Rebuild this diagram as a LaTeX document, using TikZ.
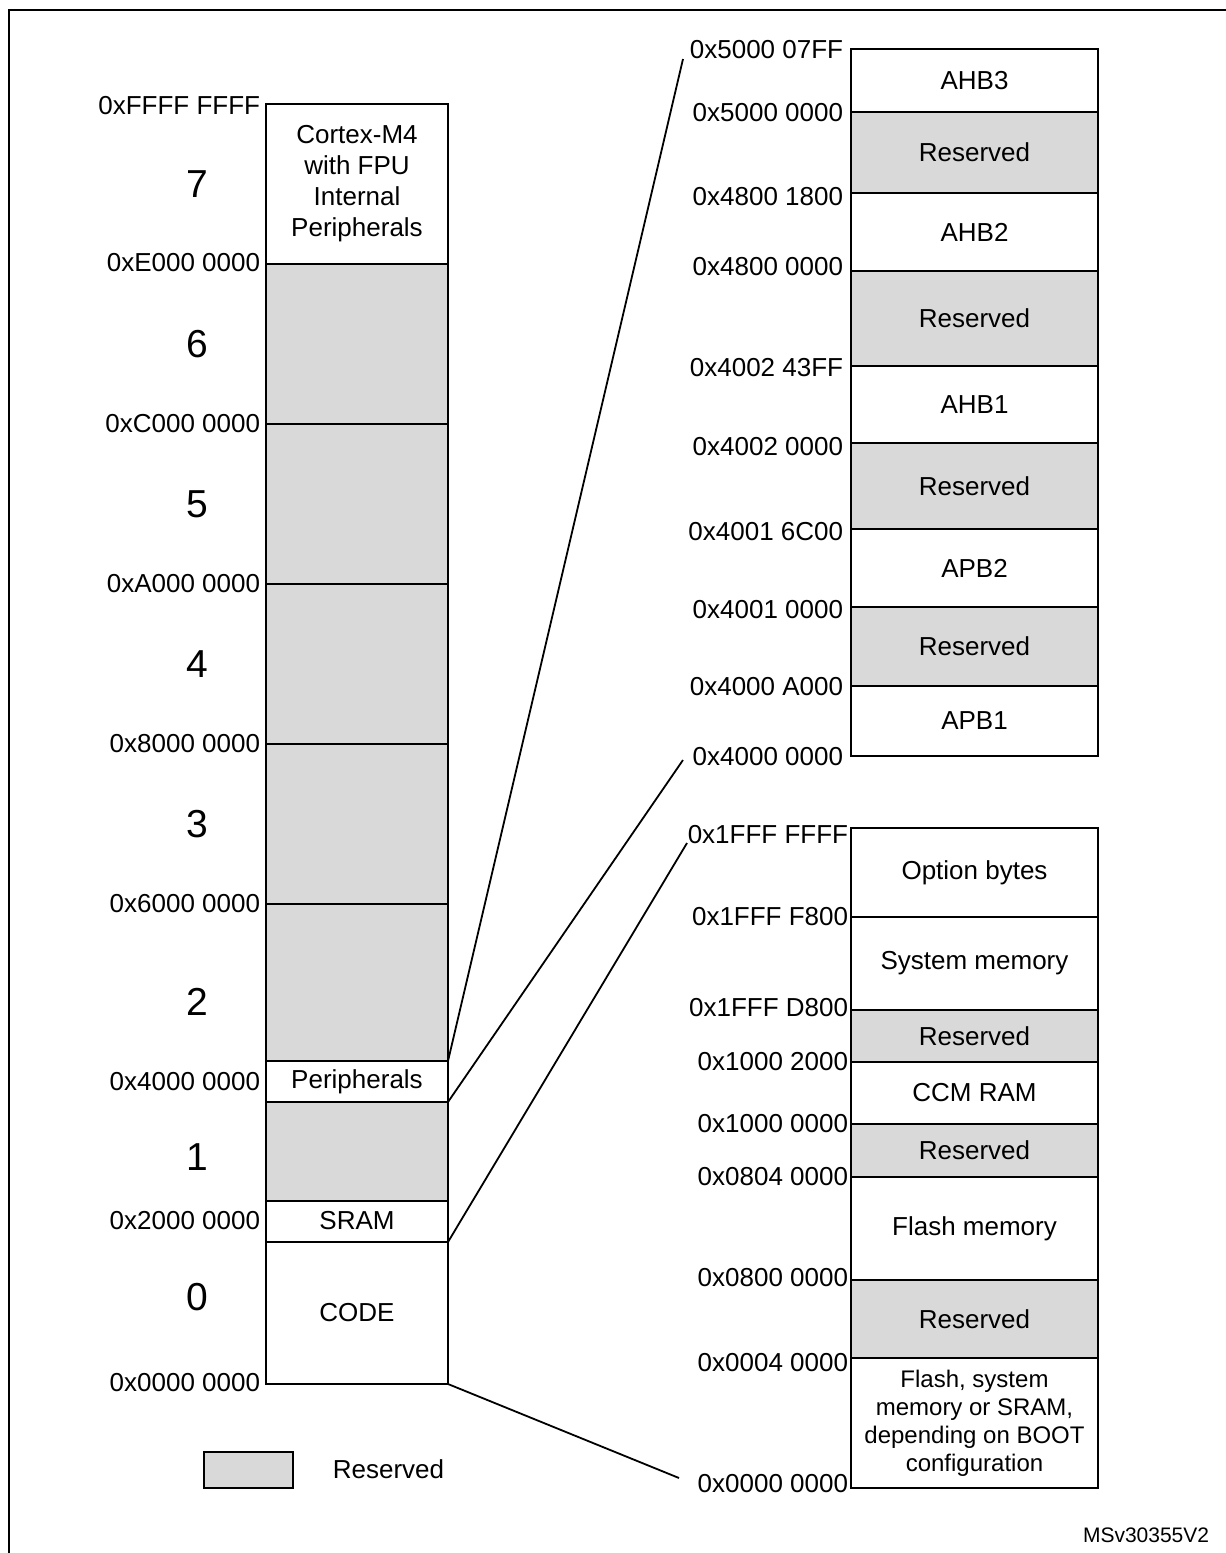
\documentclass[tikz,border=0pt]{standalone}
\usepackage{fontspec}
\setmainfont{Liberation Sans}
\definecolor{resvgray}{HTML}{D9D9D9}

\begin{document}
\begin{tikzpicture}[x=0.5pt,y=-0.5pt,line width=0.9pt,
  every node/.style={font=\fontsize{13pt}{15.5pt}\selectfont, inner sep=0pt},
  addr/.style={anchor=east},
  regnum/.style={font=\fontsize{19.5pt}{23pt}\selectfont},
  seg/.style={draw=black, fill=white},
  resv/.style={draw=black, fill=resvgray}]
  \def\lx{266}; \def\rx{448}; % left column
  \def\ux{851}; \def\vx{1098}; % right columns
  \def\cx{357}; \def\dx{974.5}; % centres of the columns

  \useasboundingbox (0,0) rectangle (1226,1553);
  \clip (0,0) rectangle (1226,1553);
  \draw[line width=1.1pt] (9,10) rectangle (1240,1570); % frame, cut by the page

  % left column: 4 GB in eight blocks
  \foreach \t/\b/\s in {104/264/seg, 264/424/resv, 424/584/resv, 584/744/resv, 744/904/resv,
      904/1061/resv, 1061/1102/seg, 1102/1201/resv, 1201/1242/seg, 1242/1384/seg}
    \draw[\s] (\lx,\t) rectangle (\rx,\b);
  \node[align=center] (cortex) at (\cx,184) {Cortex-M4\\with FPU\\Internal\\Peripherals};
  \node (periph) at (\cx,1082) {Peripherals};
  \node (sram) at (\cx,1221) {SRAM};
  \node (code) at (\cx,1313) {CODE};

  \foreach \y/\txt/\n in {106/0xFFFF FFFF/a7, 263/0xE000 0000/a6, 424/0xC000 0000/a5,
      584/0xA000 0000/a4, 744/0x8000 0000/a3, 904/0x6000 0000/a2, 1082/0x4000 0000/a1,
      1221/0x2000 0000/a0, 1383/0x0000 0000/az}
    \node[addr] (\n) at (261,\y) {\txt};
  \foreach \y/\k in {184/7, 344/6, 504/5, 664/4, 824/3, 1002/2, 1157/1, 1297/0} % block numbers
    \node[regnum] (blk\k) at (197,\y) {\k};

  % peripherals, zoomed
  \foreach \t/\b/\s/\txt/\n in {49/112/seg/AHB3/ahb3, 112/193/resv/Reserved/rp1, 193/271/seg/AHB2/ahb2,
      271/366/resv/Reserved/rp2, 366/443/seg/AHB1/ahb1, 443/529/resv/Reserved/rp3,
      529/607/seg/APB2/apb2, 607/686/resv/Reserved/rp4, 686/756/seg/APB1/apb1} {
    \draw[\s] (\ux,\t) rectangle (\vx,\b);
    \node (\n) at (\dx,{(\t+\b)/2}) {\txt};
  }
  \foreach \y/\txt/\n in {50/0x5000 07FF/p1, 113/0x5000 0000/p2, 197/0x4800 1800/p3,
      267/0x4800 0000/p4, 368/0x4002 43FF/p5, 447/0x4002 0000/p6, 532/0x4001 6C00/p7,
      610/0x4001 0000/p8, 687/0x4000 A000/p9, 757/0x4000 0000/p10}
    \node[addr] (\n) at (844,\y) {\txt};

  % code area, zoomed
  \foreach \t/\b/\s/\txt/\n in {828/917/seg/Option bytes/optb, 917/1010/seg/System memory/sysm,
      1010/1062/resv/Reserved/rc1, 1062/1124/seg/CCM RAM/ccm, 1124/1177/resv/Reserved/rc2,
      1177/1280/seg/Flash memory/flash, 1280/1358/resv/Reserved/rc3, 1358/1488/seg//boot} {
    \draw[\s] (\ux,\t) rectangle (\vx,\b);
    \node (\n) at (\dx,{(\t+\b)/2}) {\txt};
  }
  \node[align=center, font=\fontsize{12pt}{14pt}\selectfont] (bootm) at (\dx,1423)
    {Flash, system\\memory or SRAM,\\depending on BOOT\\configuration};
  \foreach \y/\txt/\n in {835/0x1FFF FFFF/q1, 917/0x1FFF F800/q2, 1008/0x1FFF D800/q3,
      1062/0x1000 2000/q4, 1124/0x1000 0000/q5, 1177/0x0804 0000/q6, 1278/0x0800 0000/q7,
      1363/0x0004 0000/q8, 1484/0x0000 0000/q9}
    \node[addr] (\n) at (849,\y) {\txt};

  % connectors between the maps
  \coordinate (pertop) at (\rx,1061);
  \coordinate (perbot) at (\rx,1102);
  \coordinate (sramb) at (\rx,1242);
  \coordinate (codeb) at (\rx,1384);
  \coordinate (hiA) at (683,59);
  \coordinate (hiB) at (683,760);
  \coordinate (hiC) at (687,843);
  \coordinate (hiD) at (679,1478);
  \draw (pertop) -- (hiA);
  \draw (perbot) -- (hiB);
  \draw (sramb) -- (hiC);
  \draw (codeb) -- (hiD);

  % legend
  \draw[resv] (204,1452) rectangle (293,1488);
  \node[anchor=west] (legend) at (332,1469) {Reserved};
  \node[anchor=east, font=\fontsize{10.5pt}{12pt}\selectfont] (ref) at (1210,1535) {MSv30355V2};
\end{tikzpicture}
\end{document}
